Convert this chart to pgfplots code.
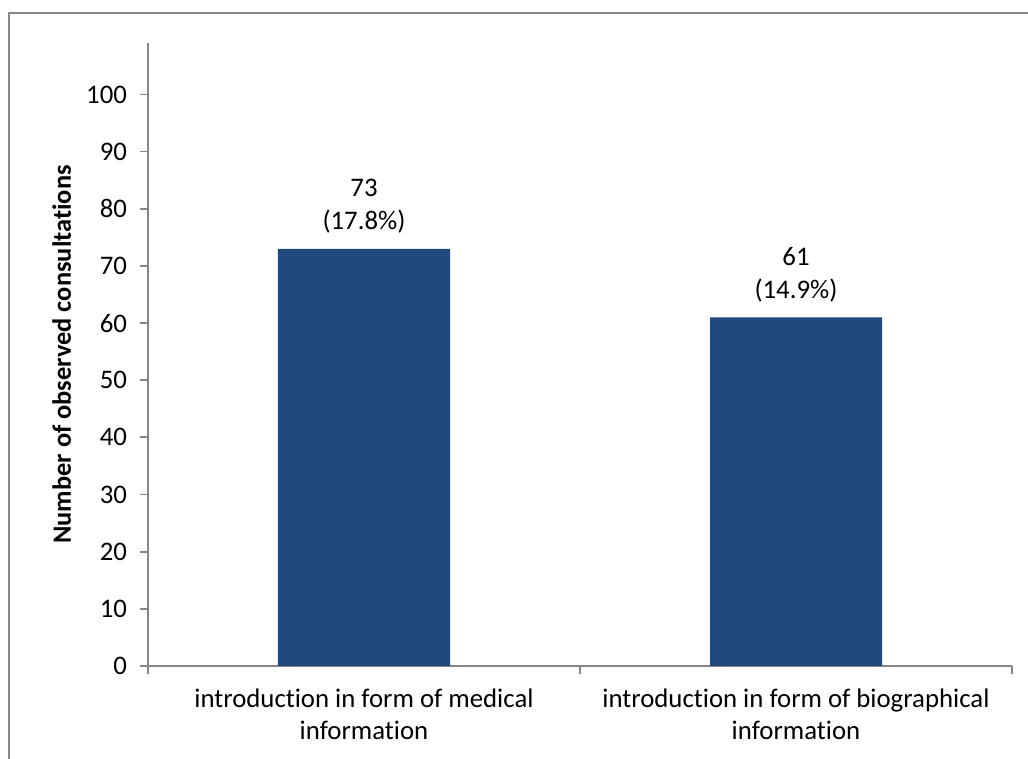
\documentclass[border=0pt]{standalone}
\usepackage{pgfplots}
\pgfplotsset{compat=1.18}
\usepackage{pgfplotstable}
\usepackage{fontspec}
\setmainfont{Carlito}[Ligatures=NoCommon]

\definecolor{barblue}{RGB}{31,73,125}
\definecolor{axisgray}{RGB}{134,134,134}
\definecolor{framegray}{RGB}{137,137,137}

% consultations per kind of introduction
\pgfplotstableread{
x y pct
0 73 17.8
1 61 14.9
}\consults

\begin{document}
\begin{tikzpicture}
\useasboundingbox (-74pt,-46.5pt) rectangle (440pt,333pt);
% chart frame
\draw[framegray, line width=1pt] (-69.5pt,-50pt) -- (-69.5pt,326.5pt) -- (445pt,326.5pt);
\begin{axis}[
  at={(0,0)}, anchor=south west,
  scale only axis,
  width=432pt, height=311.5pt,
  xmin=-0.5, xmax=1.5,
  ymin=0, ymax=109,
  axis lines*=left,
  axis line style={axisgray, line width=0.9pt},
  tick align=outside,
  major tick length=4pt,
  ytick={0,10,...,100},
  ytick style={axisgray, line width=0.9pt},
  xtick={0,1},
  xtick style={draw=none},
  extra x ticks={-0.5,0.5,1.5},
  extra x tick labels={},
  extra x tick style={xtick style={draw=axisgray, line width=0.9pt}},
  xticklabels={{introduction in form of medical\\information},{introduction in form of biographical\\information}},
  xticklabel style={align=center, font=\fontsize{13.4}{16}\selectfont, yshift=-4pt},
  yticklabel style={font=\fontsize{13.4}{15}\selectfont, xshift=-3pt},
  /pgf/number format/assume math mode=true,
  ylabel={\textbf{Number of observed consultations}},
  ylabel style={at={(axis description cs:-0.1,0.5)}, anchor=center, rotate=0, font=\fontsize{13.2}{15}\selectfont},
  nodes near coords={\pgfmathprintnumber{\pgfplotspointmeta}\\(\pgfmathprintnumber[fixed, precision=1, fixed zerofill]{\pct}\%)},
  every node near coord/.append style={align=center, font=\fontsize{13.4}{16.5}\selectfont, black, yshift=4pt},
  visualization depends on={\thisrow{pct} \as \pct},
]
\addplot[ybar, bar width=86pt, fill=barblue, draw=none] table[x=x, y=y] {\consults};
\end{axis}
\end{tikzpicture}
\end{document}
